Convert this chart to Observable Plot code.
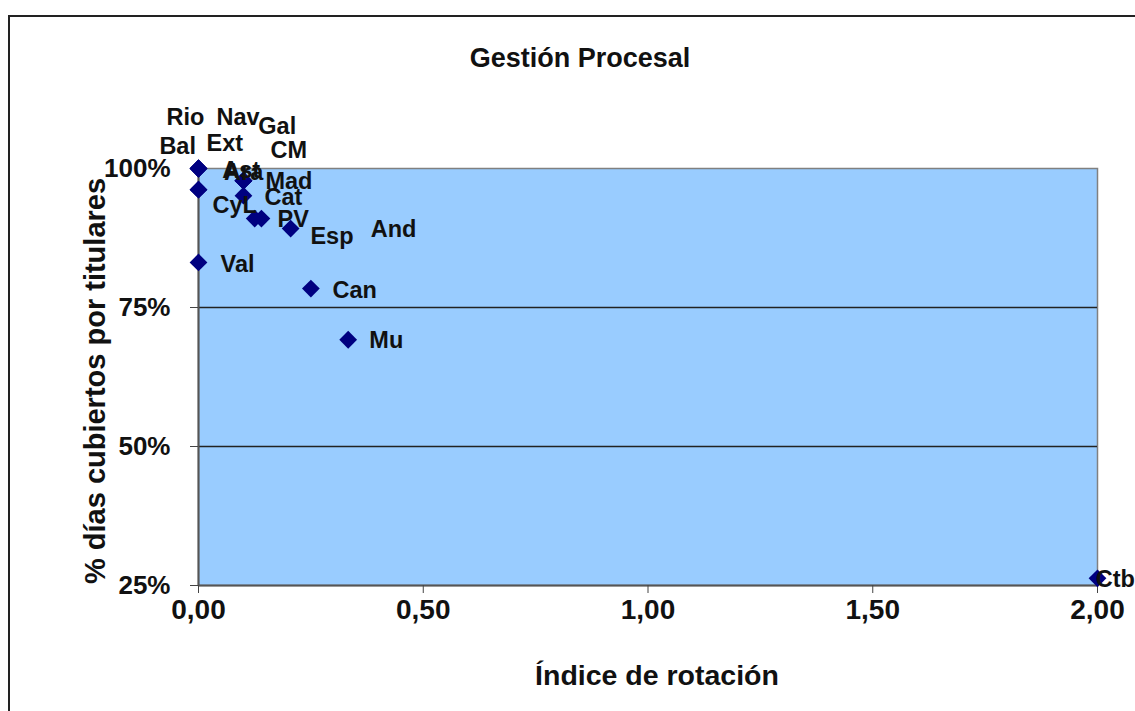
<!DOCTYPE html>
<html>
<head>
<meta charset="utf-8">
<script src="https://cdn.jsdelivr.net/npm/d3@7"></script>
<script src="https://cdn.jsdelivr.net/npm/@observablehq/plot@0.6"></script>
<style>
  html, body { margin: 0; padding: 0; background: #fff; }
  #wrap { position: relative; width: 1135px; height: 711px; overflow: hidden; }
  #border { position: absolute; left: 8px; top: 15px; width: 1200px; height: 800px;
            border-left: 2px solid #222; border-top: 2px solid #222; pointer-events: none; }
  svg { position: absolute; left: 0; top: 0; }
</style>
</head>
<body>
<div id="wrap"><div id="border"></div></div>
<script>
// Regions (labels) with rotation index (x) and % days covered (y)
const regions = ["Rio","Nav","Gal","Bal","Ext","CM","Ast","Ara","Mad","Cat","CyL","PV","Esp","And","Val","Can","Mu","Ctb"];
const rotation = [0, 0, 0.10, 0, 0, 0.10, 0, 0.10, 0.10, 0.10, 0, 0.125, 0.205, 0.14, 0, 0.25, 0.333, 2.0];
const covered  = [1.0, 1.0, 0.978, 0.962, 1.0, 0.978, 1.0, 0.978, 0.978, 0.951, 0.962, 0.91, 0.892, 0.91, 0.831, 0.784, 0.692, 0.263];
// Label anchor positions (data units), as placed in the original chart
const labelX = [-0.071, 0.040, 0.133, -0.087, 0.018, 0.160, 0.053, 0.057, 0.149, 0.147, 0.031, 0.176, 0.249, 0.383, 0.049, 0.298, 0.380, 1.996];
const labelY = [1.092, 1.092, 1.076, 1.040, 1.045, 1.032, 0.996, 0.993, 0.977, 0.948, 0.933, 0.908, 0.878, 0.890, 0.827, 0.781, 0.691, 0.261];

const xTicks = [0, 0.5, 1, 1.5, 2];
const yTicks = [0.25, 0.5, 0.75, 1.0];
const gridLines = [0.5, 0.75];

const title = "Gestión Procesal";
const xLabel = "Índice de rotación";
const yLabel = "% días cubiertos por titulares";

const data = regions.map((r, i) => ({region: r, x: rotation[i], y: covered[i], lx: labelX[i], ly: labelY[i]}));

const font = "'Liberation Sans', Arial, sans-serif";

const chart = Plot.plot({
  width: 1135,
  height: 711,
  marginLeft: 198,
  marginRight: 38,
  marginTop: 168,
  marginBottom: 126,
  style: {fontFamily: font, fontWeight: "bold", color: "#111", background: "transparent", overflow: "visible"},
  x: {domain: [0, 2]},
  y: {domain: [0.25, 1.0]},
  marks: [
    Plot.frame({fill: "#99CCFF", stroke: "#808080", strokeWidth: 1.5}),
    Plot.ruleY(gridLines, {stroke: "#222", strokeWidth: 1.4}),
    Plot.ruleX([0], {stroke: "#555", strokeWidth: 2}),
    Plot.ruleY([0.25], {stroke: "#555", strokeWidth: 2}),
    Plot.axisY({ticks: yTicks, tickFormat: d => Math.round(d * 100) + "%", tickSize: 8, tickPadding: 20,
                fontSize: 26, fontWeight: "bold", label: null, stroke: "#444"}),
    Plot.axisX({ticks: xTicks, tickFormat: d => d.toFixed(2).replace(".", ","), tickSize: 8, tickPadding: 6,
                fontSize: 28, fontWeight: "bold", label: null, stroke: "#444"}),
    Plot.dot(data, {x: "x", y: "y", symbol: "diamond2", r: 8, fill: "#000080", stroke: "none"}),
    Plot.text(data, {x: "lx", y: "ly", text: "region", textAnchor: "start", fontSize: 23.5, fontWeight: "bold", fill: "#111"}),
    Plot.text([title], {frameAnchor: "top", dx: -68, dy: -110, textAnchor: "middle", lineAnchor: "middle", fontSize: 27, fontWeight: "bold", fill: "#111"}),
    Plot.text([xLabel], {frameAnchor: "bottom", dx: 9, dy: 90, textAnchor: "middle", lineAnchor: "middle", fontSize: 28.5, fontWeight: "bold", fill: "#111"}),
    Plot.text([yLabel], {frameAnchor: "left", dx: -103, dy: 4, rotate: -90, textAnchor: "middle", lineAnchor: "middle", fontSize: 29, fontWeight: "bold", fill: "#111"})
  ]
});
document.getElementById("wrap").appendChild(chart);
</script>
</body>
</html>
